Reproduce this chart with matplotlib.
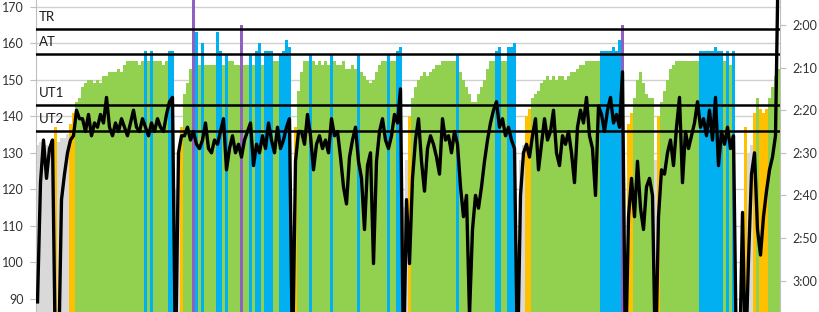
import numpy as np
import matplotlib
matplotlib.use("Agg")
import matplotlib.pyplot as plt
from matplotlib.ticker import FuncFormatter, FixedLocator

plt.rcParams['font.family'] = ['Lato', 'DejaVu Sans']

# Heart rate per sample (bpm)
heart_rate = [
    132, 133, 133, 132, 131, 133, 137, 133, 134, 134,
    135, 138, 141, 144, 145, 148, 149, 150, 150, 149,
    150, 149, 151, 151, 152, 152, 152, 153, 152, 154,
    155, 155, 155, 155, 154, 155, 158, 155, 158, 155,
    155, 155, 154, 155, 158, 158, 120, 125, 137, 146,
    149, 153, 175, 163, 154, 160, 154, 154, 154, 154,
    163, 158, 154, 157, 155, 155, 154, 154, 165, 154,
    154, 157, 154, 158, 160, 154, 158, 158, 158, 155,
    155, 157, 158, 161, 159, 110, 137, 147, 152, 155,
    155, 157, 155, 154, 155, 154, 155, 154, 157, 155,
    154, 154, 155, 153, 153, 154, 153, 157, 152, 151,
    150, 149, 150, 152, 154, 155, 155, 157, 155, 155,
    158, 159, 115, 128, 140, 145, 148, 150, 151, 152,
    151, 152, 153, 154, 154, 155, 155, 155, 155, 155,
    157, 152, 150, 148, 146, 144, 144, 146, 148, 150,
    153, 155, 155, 158, 159, 155, 155, 159, 159, 160,
    105, 128, 132, 140, 142, 145, 146, 147, 149, 150,
    151, 150, 151, 150, 151, 151, 150, 151, 152, 152,
    153, 154, 154, 155, 155, 155, 155, 155, 158, 158,
    158, 158, 159, 158, 161, 165, 80, 138, 141, 145,
    150, 152, 149, 146, 145, 145, 128, 140, 144, 147,
    150, 153, 154, 155, 155, 155, 155, 155, 155, 155,
    155, 158, 158, 158, 158, 158, 159, 158, 158, 155,
    158, 154, 158, 80, 80, 110, 137, 130, 132, 141,
    145, 142, 141, 142, 145, 148, 151, 153,
]

# Pace per sample (seconds per 500 m)
pace_sec = [
    185, 157, 147, 156, 149, 147, 200, 200, 161, 155,
    150, 147, 146, 140, 142, 142, 145, 141, 146, 143,
    144, 141, 143, 137, 144, 146, 143, 145, 142, 144,
    146, 143, 140, 144, 145, 142, 144, 146, 143, 145,
    142, 144, 145, 141, 138, 137, 200, 150, 146, 146,
    144, 147, 145, 148, 149, 147, 143, 149, 150, 147,
    148, 145, 142, 154, 149, 146, 150, 148, 151, 147,
    145, 143, 153, 148, 150, 146, 149, 143, 147, 150,
    144, 149, 147, 144, 142, 200, 152, 145, 145, 148,
    141, 146, 154, 148, 146, 149, 147, 150, 142, 146,
    145, 151, 158, 162, 151, 147, 144, 152, 156, 168,
    153, 150, 176, 152, 145, 142, 147, 149, 146, 141,
    143, 135, 200, 161, 176, 156, 147, 142, 152, 159,
    149, 146, 148, 151, 155, 142, 147, 146, 150, 145,
    148, 158, 165, 160, 188, 168, 160, 163, 158, 152,
    147, 143, 140, 138, 144, 142, 146, 144, 147, 149,
    200, 160, 150, 148, 151, 146, 142, 154, 148, 142,
    147, 145, 140, 150, 153, 146, 148, 145, 150, 157,
    144, 140, 143, 137, 146, 149, 160, 139, 141, 145,
    140, 137, 143, 141, 144, 131, 200, 165, 156, 165,
    152, 163, 168, 158, 156, 160, 200, 165, 154, 155,
    150, 147, 153, 144, 137, 157, 145, 149, 146, 143,
    138, 144, 142, 146, 140, 147, 137, 153, 145, 148,
    144, 149, 146, 200, 200, 164, 200, 175, 155, 150,
    168, 174, 165, 159, 154, 151, 146, 100,
]

# Training zone boundaries (bpm)
zone_names = ["UT2", "UT1", "AT", "TR"]
zone_bounds = [136, 143, 157, 164]
zone_colors = ["#D9D9D9", "#FFC000", "#92D050", "#00B0F0", "#9060C0"]

hr_ticks = [90, 100, 110, 120, 130, 140, 150, 160, 170]
pace_ticks = [120, 130, 140, 150, 160, 170, 180]

hr = np.array(heart_rate, dtype=float)
pace = np.array(pace_sec, dtype=float)
n = len(hr)
x = np.arange(n)

fig = plt.figure(figsize=(8.2, 3.12), dpi=100)
ax = fig.add_axes([36 / 820, 0.0, 744 / 820, 1.0])

zone_idx = np.digitize(hr, zone_bounds)
bar_cols = [zone_colors[k] for k in zone_idx]
ax.bar(x, hr, width=1.0, color=bar_cols, linewidth=0, antialiased=False, zorder=2)

ax.set_xlim(-0.5, n - 0.5)
ax.set_ylim(86.36, 171.84)
ax.yaxis.set_major_locator(FixedLocator(hr_ticks))
ax.set_axisbelow(True)
ax.grid(axis='y', color='#D0D0D0', linewidth=1.0, zorder=0)
ax.set_xticks([])

for name, b in zip(zone_names, zone_bounds):
    ax.axhline(b, color='black', linewidth=1.8, zorder=3)
    ax.annotate(name, xy=(0, b), xycoords=('axes fraction', 'data'),
                xytext=(3, 12), textcoords='offset pixels',
                ha='left', va='center', fontsize=9.5, color='#1a1a1a', zorder=4)

for s in ['top', 'bottom', 'right']:
    ax.spines[s].set_visible(False)
ax.spines['left'].set_color('#BFBFBF')
ax.tick_params(axis='y', direction='out', length=4, color='#BFBFBF',
               labelsize=9, labelcolor='#333333', pad=5)

ax2 = ax.twinx()
ax2.plot(x, pace, color='black', linewidth=2.4, solid_joinstyle='round', zorder=5)
ax2.set_ylim(187.37, 114.13)
ax2.yaxis.set_major_locator(FixedLocator(pace_ticks))
ax2.yaxis.set_major_formatter(FuncFormatter(lambda v, p: f"{int(v)//60}:{int(v)%60:02d}"))
for s in ['top', 'bottom', 'left']:
    ax2.spines[s].set_visible(False)
ax2.spines['right'].set_color('#BFBFBF')
ax2.tick_params(axis='y', direction='out', length=4, color='#BFBFBF',
                labelsize=9, labelcolor='#333333', pad=5)

fig.savefig("out.png", dpi=100)
